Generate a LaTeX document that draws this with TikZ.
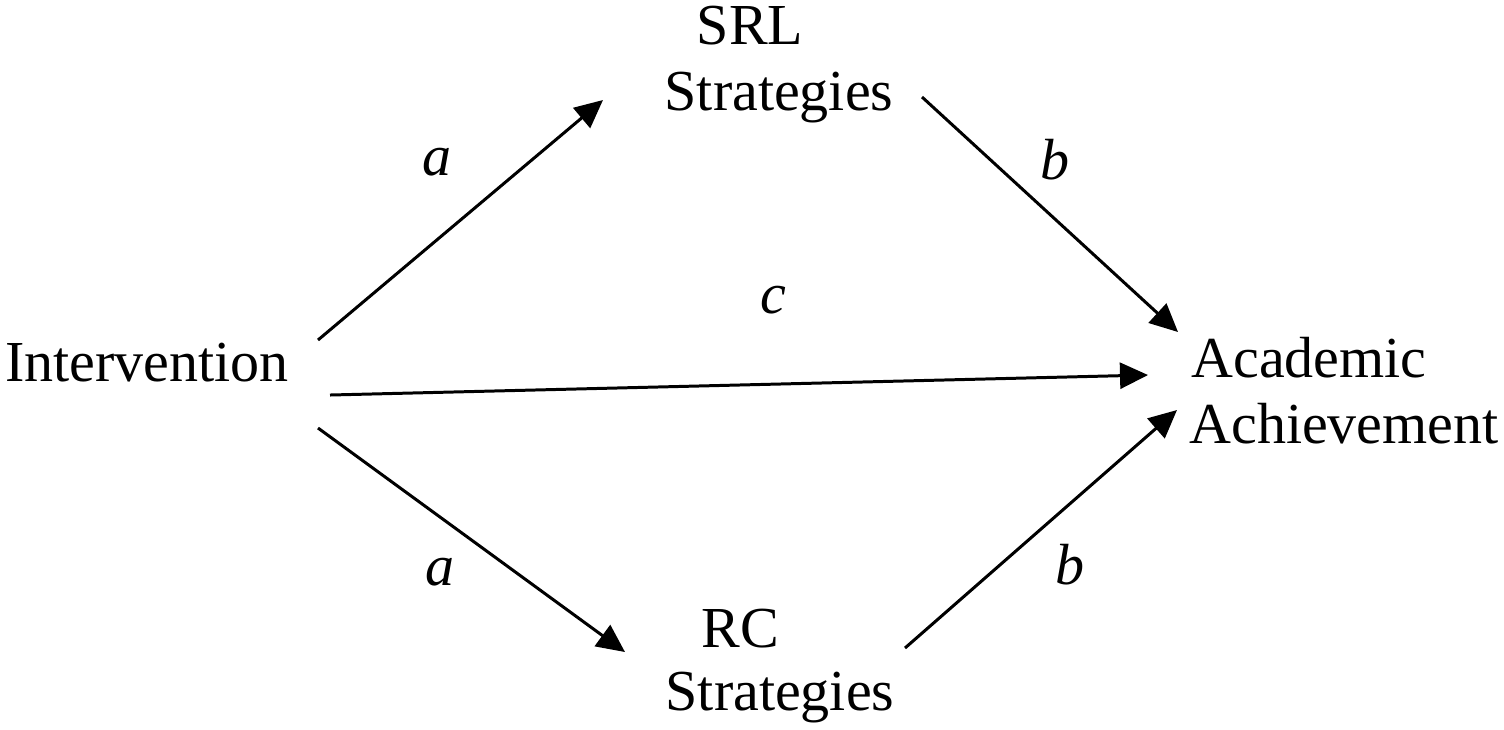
\documentclass[tikz,border=0pt]{standalone}
\usepackage{fontspec}
\setmainfont{Liberation Serif}
\usetikzlibrary{arrows.meta}
\begin{document}
\begin{tikzpicture}[x=0.01cm,y=-0.01cm,
  lbl/.style={font=\fontsize{16.5}{20}\selectfont, inner sep=0pt, anchor=base},
  coef/.style={font=\fontsize{16.5}{20}\selectfont\itshape, inner sep=0pt},
  path/.style={line width=0.85pt, -{Triangle[length=0.28cm,width=0.26cm]}}]
\useasboundingbox (0,0) rectangle (1504,729);
\node[lbl] (int) at (147,381) {Intervention};
\node[lbl] (srl1) at (750,44) {SRL};
\node[lbl] (srl2) at (779,110) {Strategies};
\node[lbl] (rc1) at (740,647) {RC};
\node[lbl] (rc2) at (780,710) {Strategies};
\node[lbl] (ach1) at (1309,377) {Academic};
\node[lbl] (ach2) at (1344,443) {Achievement};
\coordinate (a1s) at (318,340); \coordinate (a1e) at (603,100);
\coordinate (b1s) at (922,97);  \coordinate (b1e) at (1178,332);
\coordinate (cs) at (330,395);  \coordinate (ce) at (1148,375);
\coordinate (a2s) at (318,428); \coordinate (a2e) at (625,652);
\coordinate (b2s) at (905,648); \coordinate (b2e) at (1177,410);
\draw[path] (a1s) -- (a1e);
\draw[path] (b1s) -- (b1e);
\draw[path] (cs) -- (ce);
\draw[path] (a2s) -- (a2e);
\draw[path] (b2s) -- (b2e);
\node[coef] (la1) at (437,162) {a};
\node[coef] (lb1) at (1055,160) {b};
\node[coef] (lc) at (773,300) {c};
\node[coef] (la2) at (440,572) {a};
\node[coef] (lb2) at (1070,565) {b};
\end{tikzpicture}
\end{document}
